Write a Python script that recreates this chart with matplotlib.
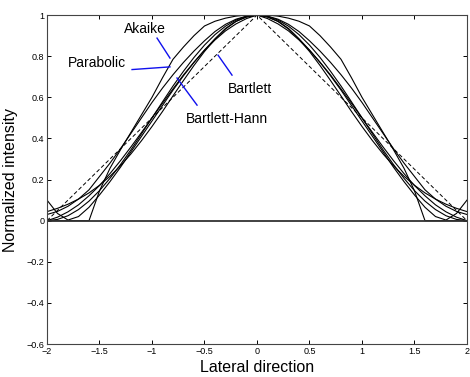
import matplotlib
matplotlib.use("Agg")
import matplotlib.pyplot as plt
import numpy as np

# lateral positions (right half, the profiles are symmetric about 0)
x_half = [0.0, 0.1, 0.2, 0.3, 0.4, 0.5, 0.6, 0.7, 0.8, 0.9, 1.0,
          1.1, 1.2, 1.3, 1.4, 1.5, 1.6, 1.7, 1.8, 1.9, 2.0]

# normalized intensity
akaike = [1.0, 1.0, 0.995, 0.985, 0.97, 0.947, 0.9, 0.845, 0.785, 0.695, 0.60,
          0.515, 0.43, 0.345, 0.255, 0.145, 0.0, 0.0, 0.0, 0.0, 0.0]
parabolic = [1.0, 0.995, 0.98, 0.955, 0.92, 0.875, 0.825, 0.77, 0.71, 0.645, 0.575,
             0.5, 0.425, 0.35, 0.28, 0.215, 0.15, 0.105, 0.07, 0.045, 0.03]
sinc_like = [1.0, 0.99, 0.97, 0.935, 0.885, 0.83, 0.77, 0.705, 0.635, 0.56, 0.485,
             0.41, 0.335, 0.26, 0.19, 0.125, 0.065, 0.02, 0.003, 0.035, 0.10]
bartlett_hann = [1.0, 0.983, 0.957, 0.923, 0.879, 0.829, 0.771, 0.709, 0.641, 0.571, 0.50,
                 0.429, 0.359, 0.292, 0.229, 0.171, 0.121, 0.077, 0.043, 0.017, 0.0]
hann = [1.0, 0.994, 0.976, 0.946, 0.905, 0.854, 0.794, 0.727, 0.655, 0.578, 0.50,
        0.422, 0.345, 0.273, 0.206, 0.146, 0.095, 0.054, 0.024, 0.006, 0.0]
gauss = [1.0, 0.992, 0.969, 0.932, 0.882, 0.823, 0.755, 0.682, 0.607, 0.531, 0.458,
         0.389, 0.325, 0.267, 0.216, 0.172, 0.135, 0.105, 0.080, 0.060, 0.044]
bartlett = [1.0, 0.95, 0.90, 0.85, 0.80, 0.75, 0.70, 0.65, 0.60, 0.55, 0.50,
            0.45, 0.40, 0.35, 0.30, 0.25, 0.20, 0.15, 0.10, 0.05, 0.0]

xticks = [-2, -1.5, -1, -0.5, 0, 0.5, 1, 1.5, 2]
xticklabels = ["\u22122", "\u22121.5", "\u22121", "\u22120.5", "0", "0.5", "1", "1.5", "2"]
yticks = [-0.6, -0.4, -0.2, 0, 0.2, 0.4, 0.6, 0.8, 1]
yticklabels = ["\u22120.6", "\u22120.4", "\u22120.2", "0", "0.2", "0.4", "0.6", "0.8", "1"]

# label text, text centre, pointer start, pointer end (data coords)
labels = [
    ("Akaike", (-1.07, 0.93), (-0.952, 0.888), (-0.829, 0.791)),
    ("Parabolic", (-1.52, 0.767), (-1.19, 0.735), (-0.829, 0.748)),
    ("Bartlett", (-0.065, 0.64), (-0.371, 0.805), (-0.238, 0.708)),
    ("Bartlett-Hann", (-0.29, 0.494), (-0.571, 0.562), (-0.762, 0.694)),
]


def full(h):
    h = np.asarray(h, dtype=float)
    return np.concatenate([h[:0:-1], h])


plt.rcParams['font.family'] = ['Liberation Sans', 'DejaVu Sans']

fig = plt.figure(figsize=(4.70, 3.77), dpi=100)
ax = fig.add_axes([0.1, 0.0875, 0.8936, 0.8725])

xs = np.concatenate([-np.asarray(x_half)[:0:-1], x_half])
for prof in [akaike, parabolic, sinc_like, bartlett_hann, hann, gauss]:
    ax.plot(xs, full(prof), color="black", lw=0.8)
ax.plot(xs, full(bartlett), color="black", lw=0.7, ls=(0, (4, 2.5)))

ax.axhline(0, color="#333333", lw=1.3)

for txt, tpos, p0, p1 in labels:
    ax.plot([p0[0], p1[0]], [p0[1], p1[1]], color="#1010ee", lw=1.0)
    ax.text(tpos[0], tpos[1], txt, fontsize=10, ha="center", va="center")

ax.set_xlim(-2, 2)
ax.set_ylim(-0.6, 1)
ax.set_xticks(xticks)
ax.set_xticklabels(xticklabels)
ax.set_yticks(yticks)
ax.set_yticklabels(yticklabels)
ax.tick_params(direction="in", length=3, width=0.7, labelsize=6.5,
               top=True, right=True, pad=2)
for s in ax.spines.values():
    s.set_linewidth(0.8)
    s.set_color("#444444")

ax.set_xlabel("Lateral direction", fontsize=11.5, labelpad=3)
ax.set_ylabel("Normalized intensity", fontsize=11.5, labelpad=6)

fig.savefig("out.png", dpi=100)
